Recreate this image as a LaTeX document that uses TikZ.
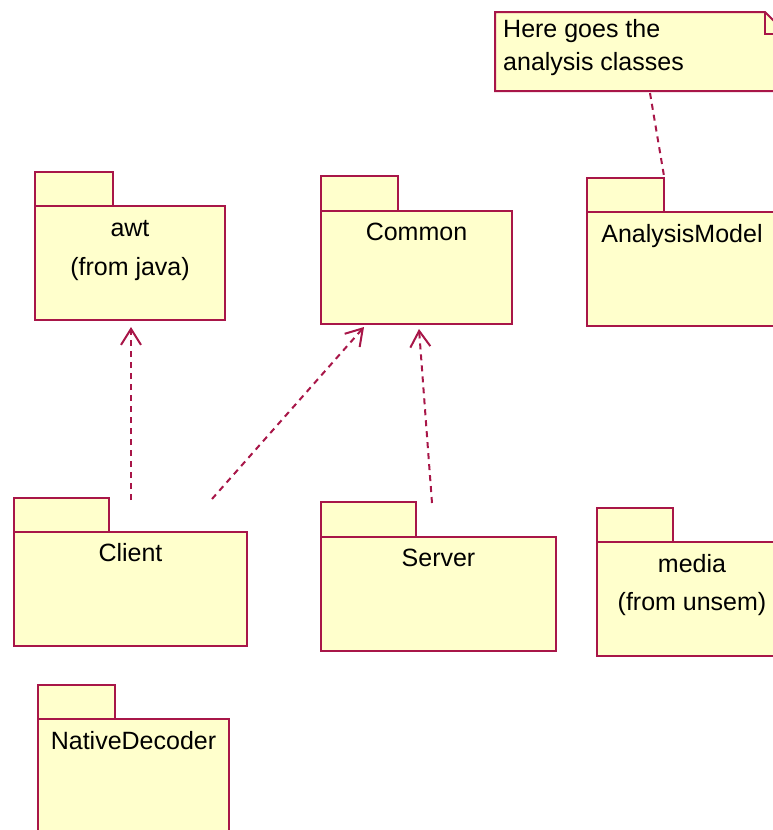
\documentclass[tikz,border=0pt]{standalone}
\usepackage{fontspec}
\setmainfont{Liberation Sans}
\usetikzlibrary{arrows.meta,calc}
\definecolor{pkline}{RGB}{168,22,72}
\definecolor{pkfill}{RGB}{255,255,204}
\begin{document}
\begin{tikzpicture}[x=1pt,y=-1pt,
  every node/.style={font=\fontsize{25}{30}\selectfont},
  pkgbody/.style={draw=pkline,fill=pkfill,line width=2pt,inner sep=0pt,outer sep=0pt,anchor=north west},
  pkgtab/.style={draw=pkline,fill=pkfill,line width=2pt,inner sep=0pt,outer sep=0pt,anchor=south west,minimum height=34pt},
  pkgname/.style={anchor=base,inner sep=0pt},
  dep/.style={draw=pkline,line width=2pt,dash pattern=on 6pt off 5pt,
    -{Straight Barb[length=16pt,width=20pt,line width=2pt]}},
  notelink/.style={draw=pkline,line width=2pt,dash pattern=on 6pt off 5pt}]
\useasboundingbox (0,0) rectangle (773,830);
\clip (0,0) rectangle (773,830);

% note with folded corner
\filldraw[draw=pkline,fill=pkfill,line width=2pt]
  (495,12) -- (765,12) -- (787,34) -- (787,91) -- (495,91) -- cycle;
\draw[pkline,line width=2pt] (765,12) -- (765,34) -- (787,34);
\node[anchor=base west,inner sep=0pt] (noteA) at (503,37) {Here goes the};
\node[anchor=base west,inner sep=0pt] (noteB) at (503,70) {analysis classes};
\coordinate (notebot) at (650,93);

% packages: tab, body, name
\node[pkgbody,minimum width=190pt,minimum height=114pt] (awt) at (35,206) {};
\node[pkgtab,minimum width=78pt] (awttab) at (awt.north west) {};
\node[pkgname] (awtname) at ($(awt.north)+(0,30)$) {awt};
\node[pkgname] (awtfrom) at ($(awt.north)+(0,69)$) {(from java)};

\node[pkgbody,minimum width=191pt,minimum height=113pt] (common) at (321,211) {};
\node[pkgtab,minimum width=77pt,minimum height=35pt] (commontab) at (common.north west) {};
\node[pkgname] (commonname) at ($(common.north)+(0,29)$) {Common};

\node[pkgbody,minimum width=190pt,minimum height=114pt] (analysis) at (587,212) {};
\node[pkgtab,minimum width=77pt] (analysistab) at (analysis.north west) {};
\node[pkgname] (analysisname) at ($(analysis.north)+(0,30)$) {AnalysisModel};

\node[pkgbody,minimum width=233pt,minimum height=114pt] (client) at (14,532) {};
\node[pkgtab,minimum width=95pt] (clienttab) at (client.north west) {};
\node[pkgname] (clientname) at ($(client.north)+(0,29)$) {Client};

\node[pkgbody,minimum width=235pt,minimum height=114pt] (server) at (321,537) {};
\node[pkgtab,minimum width=95pt,minimum height=35pt] (servertab) at (server.north west) {};
\node[pkgname] (servername) at ($(server.north)+(0,29)$) {Server};

\node[pkgbody,minimum width=190pt,minimum height=114pt] (media) at (597,542) {};
\node[pkgtab,minimum width=76pt] (mediatab) at (media.north west) {};
\node[pkgname] (medianame) at ($(media.north)+(0,30)$) {media};
\node[pkgname] (mediafrom) at ($(media.north)+(0,68)$) {(from unsem)};

\node[pkgbody,minimum width=191pt,minimum height=130pt] (native) at (38,719) {};
\node[pkgtab,minimum width=77pt] (nativetab) at (native.north west) {};
\node[pkgname] (nativename) at ($(native.north)+(0,30)$) {NativeDecoder};

% dependency connectors
\coordinate (c1) at ($(client.north west)+(117,-32)$);
\coordinate (c2) at ($(client.north west)+(198,-33)$);
\coordinate (s1) at ($(server.north west)+(111,-34)$);
\coordinate (awtin) at ($(awt.south)+(1,7)$);
\coordinate (comA) at ($(common.south west)+(43,3)$);
\coordinate (comB) at ($(common.south west)+(98,5)$);
\draw[dep] (c1) -- (awtin);
\draw[dep] (c2) -- (comA);
\draw[dep] (s1) -- (comB);

% note attachment
\draw[notelink] (notebot) -- ($(analysistab.north east)+(0,-2)$);
\end{tikzpicture}
\end{document}
